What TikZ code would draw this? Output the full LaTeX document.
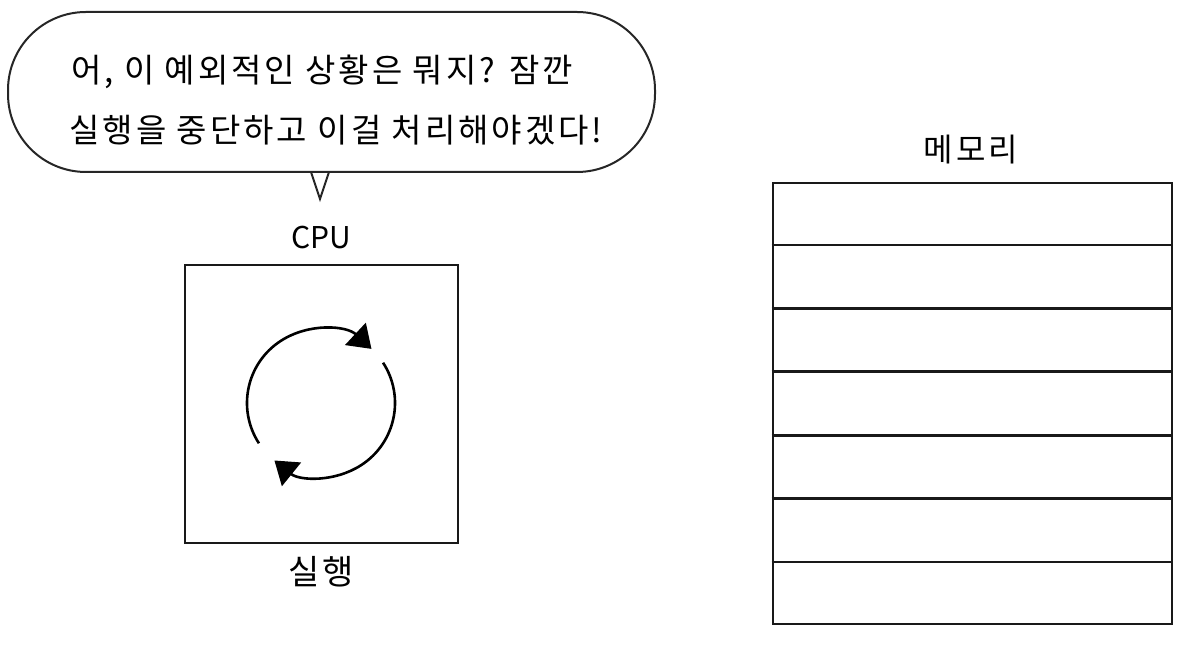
\documentclass[tikz,border=0pt]{standalone}
\usepackage{fontspec}
\setmainfont{Noto Sans CJK KR}
\newfontfamily\widefont{Noto Sans CJK KR}[LetterSpace=9]
\usetikzlibrary{arrows.meta,calc}
\begin{document}
\begin{tikzpicture}[x=1pt,y=1pt,
  outline/.style={draw=black!90,line width=2.6pt},
  bubbleline/.style={draw=black!85,line width=2pt},
  cycletip/.style={-{Triangle[length=22pt,width=30pt]}},
  bubbletext/.style={font=\widefont\fontsize{33}{38}\selectfont,inner sep=0pt,anchor=center},
  label/.style={font=\widefont\fontsize{32}{36}\selectfont,inner sep=0pt,anchor=center}]
\useasboundingbox (0,0) rectangle (1204,650);
% speech bubble
\draw[bubbleline,rounded corners=78pt] (8,478) rectangle (655,638);
\fill[white] (311,476) -- (320,452) -- (329,476) -- cycle;
\coordinate (tailL) at (311,478);
\coordinate (tailR) at (329,478);
\coordinate (tailtip) at (320,451);
\draw[bubbleline,line join=miter] (tailL) -- (tailtip) -- (tailR);
\node[bubbletext] (line1) at (322,578) {어, 이 예외적인 상황은 뭐지? 잠깐};
\node[bubbletext] (line2) at (336,520) {실행을 중단하고 이걸 처리해야겠다!};
% CPU
\node[label,font=\fontsize{30}{34}\selectfont] (cpulabel) at (321,412) {CPU};
\node[outline,minimum width=273pt,minimum height=278pt,inner sep=0pt] (cpu) at (321.5,246) {};
\coordinate (c) at (321,247);
\draw[line width=2.6pt,cycletip] ($(c)+(213:74)$) arc[start angle=213,end angle=47,radius=74];
\draw[line width=2.6pt,cycletip] ($(c)+(33:74)$) arc[start angle=33,end angle=-129,radius=74];
\node[label,font=\widefont\fontsize{34}{38}\selectfont] (run) at (321,78) {실행};
% memory
\node[label] (memlabel) at (971,500) {메모리};
\node[outline,minimum width=399pt,minimum height=441pt,inner sep=0pt] (mem) at (972.5,246.5) {};
\foreach \k in {1,...,6}{
  \draw[line width=2.8pt,black!90] ($(mem.north west)!\k/7!(mem.south west)$) -- ($(mem.north east)!\k/7!(mem.south east)$);
}
\end{tikzpicture}
\end{document}
